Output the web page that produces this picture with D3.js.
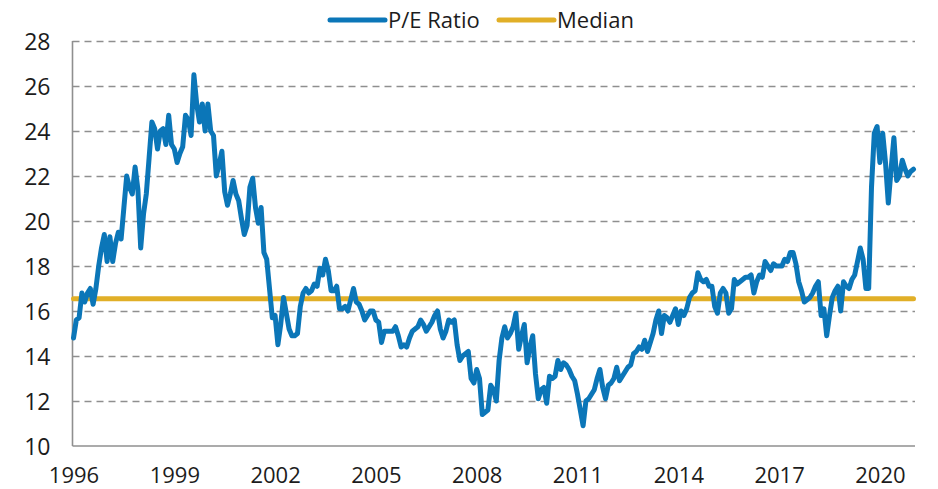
<!DOCTYPE html>
<html>
<head>
<meta charset="utf-8">
<script src="https://cdn.jsdelivr.net/npm/d3@7"></script>
<style>
  body { margin: 0; background: #fff; }
  text { font-family: "Open Sans", sans-serif; fill: #1c1c1c; }
</style>
</head>
<body>
<svg id="chart" width="938" height="489"></svg>
<script>
// monthly forward P/E, first point = start of the "1996" label
const peRatio = [
  14.8, 15.6, 15.7, 16.8, 16.4, 16.8, 17.0, 16.3, 17.0, 18.0, 18.8, 19.4,
  18.2, 19.3, 18.2, 19.0, 19.5, 19.2, 20.6, 22.0, 21.5, 21.2, 22.4, 21.4,
  18.8, 20.3, 21.2, 22.8, 24.4, 24.1, 23.2, 24.0, 24.1, 23.4, 24.7, 23.4,
  23.2, 22.6, 23.0, 23.3, 24.7, 24.5, 23.8, 26.5, 25.2, 24.4, 25.2, 24.0,
  25.2, 24.0, 23.8, 22.0, 22.5, 23.1, 21.3, 20.7, 21.2, 21.8, 21.2, 20.9,
  20.1, 19.4, 19.8, 21.5, 21.9, 20.6, 19.9, 20.6, 18.6, 18.3, 17.0, 15.7,
  15.8, 14.5, 15.4, 16.6, 15.9, 15.2, 14.9, 14.9, 15.0, 16.2, 16.8, 17.0,
  16.8, 16.9, 17.2, 17.1, 17.9, 17.6, 18.3, 17.8, 16.9, 16.9, 17.1, 16.1,
  16.1, 16.2, 16.0, 16.5, 17.0, 16.4, 16.3, 16.0, 15.6, 15.8, 16.0, 16.0,
  15.6, 15.5, 14.6, 15.1, 15.1, 15.1, 15.1, 15.3, 14.9, 14.4, 14.5, 14.4,
  14.8, 15.1, 15.2, 15.3, 15.6, 15.4, 15.1, 15.3, 15.5, 15.8, 16.0, 15.2,
  14.8, 15.1, 15.6, 15.5, 15.6, 14.5, 13.8, 14.0, 14.1, 14.2, 13.0, 12.8,
  13.4, 13.0, 11.4, 11.5, 11.6, 12.7, 12.5, 12.0, 13.8, 14.8, 15.3, 14.8,
  15.0, 15.3, 15.9, 14.3, 14.9, 15.4, 13.7, 14.4, 14.9, 13.2, 12.1, 12.5,
  12.6, 11.9, 13.1, 13.0, 13.1, 13.8, 13.4, 13.7, 13.6, 13.4, 13.1, 12.9,
  12.3, 11.6, 10.9, 12.0, 12.1, 12.3, 12.5, 13.0, 13.4, 12.6, 12.1, 12.7,
  12.8, 13.0, 13.5, 12.9, 13.1, 13.3, 13.5, 13.6, 14.1, 14.2, 14.4, 14.3,
  14.7, 14.2, 14.6, 15.0, 15.6, 16.0, 15.0, 15.8, 15.7, 15.5, 15.8, 16.1,
  15.4, 16.0, 15.8, 16.1, 16.6, 16.8, 16.9, 17.7, 17.4, 17.3, 17.4, 17.1,
  17.1, 16.2, 15.9, 16.8, 17.0, 16.8, 15.9, 16.1, 17.4, 17.2, 17.3, 17.4,
  17.5, 17.5, 17.6, 16.8, 17.3, 17.6, 17.5, 18.2, 18.0, 17.8, 18.1, 18.0,
  18.0, 18.0, 18.3, 18.2, 18.6, 18.6, 18.1, 17.3, 16.9, 16.4, 16.5, 16.6,
  16.8, 17.1, 17.3, 15.8, 16.1, 14.9, 15.8, 16.6, 16.9, 17.1, 16.0, 17.3,
  17.1, 17.0, 17.4, 17.6, 18.2, 18.8, 18.3, 17.0, 17.0, 21.5, 23.9, 24.2,
  22.6, 23.9, 22.6, 20.8, 22.3, 23.7, 21.8, 22.0, 22.7, 22.3, 22.0, 22.2,
  22.3
];
const medianValue = 16.55;
const yearLabels = ["1996", "1999", "2002", "2005", "2008", "2011", "2014", "2017", "2020"];
const monthsPerLabel = 36;
const yTicks = [10, 12, 14, 16, 18, 20, 22, 24, 26, 28];
const seriesNames = ["P/E Ratio", "Median"];
const seriesColors = ["#0b76b8", "#e1af27"];

const svg = d3.select("#chart");
const plotLeft = 72.5, plotRight = 915;

const x = d3.scaleLinear().domain([0, peRatio.length - 1]).range([73.5, 913.5]);
const y = d3.scaleLinear().domain([10, 28]).range([446, 41]);

// dashed gridlines (no line at the bottom, the axis sits there)
const grid = svg.append("g")
  .attr("transform", `translate(${plotLeft},0)`)
  .call(d3.axisLeft(y).tickValues(yTicks.slice(1)).tickSize(-(plotRight - plotLeft)).tickFormat(""));
grid.select(".domain").remove();
grid.selectAll(".tick line")
  .attr("stroke", "#8f8f8f")
  .attr("stroke-width", 1.6)
  .attr("stroke-dasharray", "7,5");

// y labels
const yAxis = svg.append("g")
  .attr("transform", `translate(${plotLeft},0)`)
  .call(d3.axisLeft(y).tickValues(yTicks).tickSize(0).tickPadding(22).tickFormat(d3.format("d")));
yAxis.select(".domain").remove();
yAxis.selectAll("text").attr("font-size", 23).attr("font-family", null).attr("dy", "0.36em");

// x labels every 36 months
const xAxis = svg.append("g")
  .attr("transform", `translate(0,${y(10)})`)
  .call(d3.axisBottom(x)
    .tickValues(yearLabels.map((d, i) => i * monthsPerLabel))
    .tickSize(0)
    .tickFormat((d, i) => yearLabels[i]));
xAxis.select(".domain").remove();
xAxis.selectAll("text").attr("font-size", 22).attr("font-family", null).attr("y", 37).attr("dy", 0);

// axis lines
svg.append("line")
  .attr("x1", plotLeft).attr("x2", plotLeft)
  .attr("y1", y(28)).attr("y2", y(10))
  .attr("stroke", "#8f8f8f").attr("stroke-width", 1.6);
svg.append("line")
  .attr("x1", plotLeft).attr("x2", plotRight)
  .attr("y1", y(10)).attr("y2", y(10))
  .attr("stroke", "#8f8f8f").attr("stroke-width", 1.6);

// median line
svg.append("line")
  .attr("x1", x(0)).attr("x2", x(peRatio.length - 1))
  .attr("y1", y(medianValue)).attr("y2", y(medianValue))
  .attr("stroke", seriesColors[1])
  .attr("stroke-width", 5)
  .attr("stroke-linecap", "round");

// P/E line
const line = d3.line()
  .x((d, i) => x(i))
  .y(d => y(d));
svg.append("path")
  .datum(peRatio)
  .attr("d", line)
  .attr("fill", "none")
  .attr("stroke", seriesColors[0])
  .attr("stroke-width", 5)
  .attr("stroke-linejoin", "round")
  .attr("stroke-linecap", "round");

// legend
const legendX = [330, 499];
const legend = svg.append("g");
seriesNames.forEach((name, i) => {
  legend.append("line")
    .attr("x1", legendX[i]).attr("x2", legendX[i] + 55)
    .attr("y1", 20).attr("y2", 20)
    .attr("stroke", seriesColors[i])
    .attr("stroke-width", 5)
    .attr("stroke-linecap", "round");
  legend.append("text")
    .attr("x", legendX[i] + 58)
    .attr("y", 27.5)
    .attr("font-size", 22)
    .text(name);
});
</script>
</body>
</html>
